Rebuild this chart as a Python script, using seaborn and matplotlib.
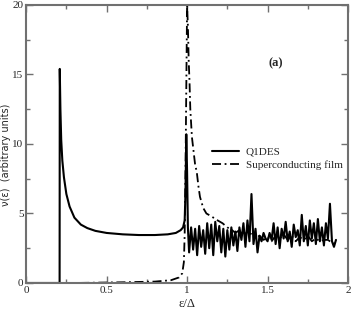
import matplotlib
matplotlib.use("Agg")
import matplotlib.pyplot as plt
import seaborn as sns
import pandas as pd
from matplotlib.ticker import AutoMinorLocator, FormatStrFormatter

# Q1DES density of states (solid line)
q1des_eps = [0.0, 0.208, 0.209, 0.213, 0.218, 0.225, 0.235, 0.25, 0.27, 0.3, 0.34, 0.38,
             0.43, 0.5, 0.6, 0.7, 0.8, 0.88, 0.93, 0.96, 0.975, 0.985, 0.99, 0.995, 1.0, 1.005,
             1.0125, 1.025, 1.0375, 1.05, 1.0625, 1.075, 1.0875, 1.1, 1.1125, 1.125, 1.1375,
             1.15, 1.1625, 1.175, 1.1875, 1.2, 1.2125, 1.225, 1.2375, 1.25, 1.2625, 1.275,
             1.2875, 1.3, 1.3125, 1.325, 1.3375, 1.35, 1.3625, 1.375, 1.3875, 1.4, 1.4125,
             1.425, 1.4375, 1.45, 1.4625, 1.475, 1.4875, 1.5, 1.5125, 1.525, 1.5375, 1.55,
             1.5625, 1.575, 1.5875, 1.6, 1.6125, 1.625, 1.6375, 1.65, 1.6625, 1.675, 1.6875,
             1.7, 1.7125, 1.725, 1.7375, 1.75, 1.7625, 1.775, 1.7875, 1.8, 1.8125, 1.825,
             1.8375, 1.85, 1.8625, 1.875, 1.8875, 1.9, 1.9125, 1.925]
q1des_dos = [0.0, 0.0, 15.4, 12.5, 10.3, 8.8, 7.6, 6.4, 5.5, 4.7, 4.2, 3.95,
             3.75, 3.6, 3.5, 3.45, 3.45, 3.5, 3.6, 3.8, 4.0, 4.5, 6.5, 10.7, 8.0, 4.0,
             2.2, 4.0, 2.4, 3.9, 2.0, 4.1, 2.6, 3.8, 2.1, 4.3, 2.5,
             4.2, 2.0, 4.4, 3.0, 4.1, 2.2, 3.9, 1.9, 3.8, 2.4, 4.0,
             2.7, 3.7, 2.3, 4.0, 3.1, 4.3, 2.6, 4.5, 3.0, 6.4, 2.8,
             3.9, 2.2, 3.4, 3.0, 3.6, 3.2, 3.0, 3.6, 3.1, 4.3, 2.8,
             4.0, 2.5, 3.9, 3.2, 4.4, 3.0, 3.7, 2.6, 4.2, 3.3, 3.8,
             2.7, 4.9, 3.0, 4.1, 2.7, 4.5, 3.2, 4.3, 2.8, 4.6, 3.0,
             4.0, 2.7, 4.3, 3.2, 5.7, 3.0, 2.6, 3.1]

# superconducting film (dash-dot line)
film_eps = [0.0, 0.3, 0.6, 0.8, 0.9, 0.95, 0.97, 0.98, 0.985, 0.99, 0.995, 1.0, 1.005,
            1.01, 1.015, 1.02, 1.03, 1.04, 1.05, 1.06, 1.07, 1.08, 1.1, 1.12, 1.15, 1.19,
            1.22, 1.25, 1.28, 1.3, 1.325, 1.35, 1.375, 1.4, 1.425, 1.45, 1.475, 1.5, 1.525,
            1.55, 1.575, 1.6, 1.625, 1.65, 1.675, 1.7, 1.725, 1.75, 1.775, 1.8, 1.825, 1.85,
            1.875, 1.9, 1.925]
film_dos = [0.0, 0.0, 0.05, 0.1, 0.2, 0.4, 0.7, 1.5, 3.5, 8.0, 14.0, 20.0, 18.5,
            16.0, 14.5, 12.5, 10.5, 9.5, 8.5, 8.0, 7.0, 6.2, 5.4, 5.0, 4.8, 4.5,
            4.3, 4.0, 3.8, 3.6, 3.8, 3.4, 3.7, 3.5, 3.2, 3.4, 3.1, 3.3, 3.0,
            3.4, 3.2, 3.5, 3.1, 3.4, 3.0, 3.3, 3.1, 3.4, 3.0, 3.2, 3.0, 3.1,
            3.1, 2.9, 2.8]

q1des = pd.DataFrame({"eps": q1des_eps, "dos": q1des_dos})
film = pd.DataFrame({"eps": film_eps, "dos": film_dos})

sns.set_style("ticks")
plt.rcParams["font.family"] = ["Liberation Serif", "DejaVu Serif"]

fig = plt.figure(figsize=(3.53, 3.12), dpi=100)
ax = fig.add_axes([0.074, 0.093, 0.912, 0.891])

sns.lineplot(data=q1des, x="eps", y="dos", ax=ax, sort=False, color="black",
             linewidth=1.5, label="Q1DES")
sns.lineplot(data=film, x="eps", y="dos", ax=ax, sort=False, color="black",
             linewidth=1.3, linestyle=(0, (5, 2, 1, 2)), label="Superconducting film")

ax.set_xlim(0, 2)
ax.set_ylim(0, 20)
ax.set_xticks([0, 0.5, 1, 1.5, 2])
ax.set_yticks([0, 5, 10, 15, 20])
ax.xaxis.set_major_formatter(FormatStrFormatter("%g"))
ax.yaxis.set_major_formatter(FormatStrFormatter("%g"))
ax.xaxis.set_minor_locator(AutoMinorLocator(2))
ax.yaxis.set_minor_locator(AutoMinorLocator(2))
ax.tick_params(which="both", direction="in", top=True, right=True,
               color="#707070", labelsize=8, pad=2)
ax.tick_params(which="major", length=5, width=1)
ax.tick_params(which="minor", length=3, width=1)
for sp in ax.spines.values():
    sp.set_color("#707070")
    sp.set_linewidth(1.5)

ax.set_xlabel("ε/Δ", fontsize=9, labelpad=2)
ax.set_ylabel("ν(ε)  (arbitrary units)", fontsize=7, family=["DejaVu Sans"])
ax.yaxis.set_label_coords(-0.047, 0.46)

ax.text(1.55, 15.8, "(a)", fontsize=9, fontweight="bold", ha="center", va="center")

ax.legend(loc="upper left", bbox_to_anchor=(0.565, 0.505), frameon=False, fontsize=8,
          handlelength=2.4, handletextpad=0.6, labelspacing=0.3, borderaxespad=0)

plt.savefig("out.png", dpi=100)
